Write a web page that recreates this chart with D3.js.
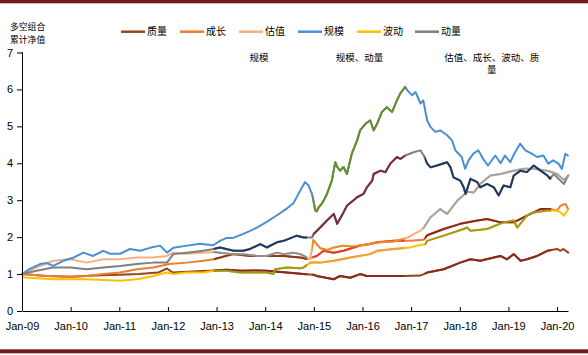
<!DOCTYPE html>
<html><head><meta charset="utf-8">
<script src="https://cdn.jsdelivr.net/npm/d3@7"></script>
<style>body{margin:0;background:#fff}svg{display:block}</style>
</head><body>
<svg id="c" width="588" height="355"></svg>
<script>
// ---- data ----
const seriesNames = ["质量","成长","估值","规模","波动","动量"];
const baseColors  = ["#93471a","#ed7d31","#f4b183","#4a8fd6","#ffc000","#7f7f7f"];

const zhiliang = [[2009.00,1.00],[2009.50,0.95],[2010.00,0.93],[2010.50,0.96],[2011.00,0.98],[2011.40,1.00],[2011.80,1.04],[2011.98,1.15],[2012.10,1.04],[2012.40,1.06],[2012.70,1.08],[2012.95,1.10],[2013.20,1.12],[2013.50,1.09],[2013.80,1.10],[2014.03,1.09],[2014.38,1.05],[2014.79,1.00],[2014.99,0.98],[2015.06,0.95],[2015.41,0.86],[2015.54,0.95],[2015.75,0.90],[2015.95,1.00],[2016.09,0.95],[2016.30,0.95],[2016.64,0.95],[2016.84,0.95],[2017.19,0.96],[2017.33,1.04],[2017.67,1.13],[2018.01,1.31],[2018.22,1.40],[2018.42,1.36],[2018.70,1.45],[2018.84,1.49],[2018.97,1.40],[2019.11,1.54],[2019.25,1.36],[2019.38,1.40],[2019.59,1.49],[2019.80,1.63],[2020.00,1.68],[2020.07,1.63],[2020.13,1.68],[2020.23,1.58]];
const chengzhang = [[2009.00,1.00],[2009.50,0.95],[2010.00,0.93],[2010.33,0.95],[2010.67,1.00],[2011.02,1.04],[2011.36,1.13],[2011.70,1.18],[2012.03,1.27],[2012.39,1.31],[2012.73,1.36],[2012.94,1.40],[2013.34,1.54],[2013.69,1.49],[2014.03,1.49],[2014.38,1.49],[2014.72,1.45],[2014.86,1.41],[2015.06,1.49],[2015.20,1.63],[2015.41,1.58],[2015.61,1.63],[2015.82,1.72],[2015.95,1.77],[2016.13,1.81],[2016.30,1.86],[2016.64,1.90],[2016.84,1.90],[2016.98,1.90],[2017.26,1.93],[2017.33,2.05],[2017.67,2.22],[2018.01,2.36],[2018.36,2.45],[2018.56,2.49],[2018.84,2.40],[2019.11,2.40],[2019.38,2.58],[2019.66,2.76],[2019.86,2.76],[2020.00,2.72],[2020.07,2.85],[2020.17,2.90],[2020.23,2.76]];
const guzhi = [[2009.00,1.00],[2009.37,1.22],[2009.64,1.36],[2009.99,1.40],[2010.33,1.31],[2010.67,1.40],[2011.02,1.40],[2011.36,1.45],[2011.70,1.45],[2011.98,1.49],[2012.11,1.58],[2012.40,1.55],[2012.73,1.58],[2012.95,1.60],[2013.07,1.58],[2013.34,1.54],[2013.55,1.54],[2013.83,1.49],[2014.03,1.49],[2014.24,1.58],[2014.38,1.54],[2014.58,1.58],[2014.72,1.54],[2014.86,1.45],[2014.92,1.40],[2014.99,1.92],[2015.06,1.81],[2015.13,1.70],[2015.27,1.65],[2015.41,1.72],[2015.61,1.77],[2015.82,1.75],[2016.09,1.81],[2016.37,1.86],[2016.64,1.88],[2016.84,1.95],[2016.98,2.02],[2017.05,2.08],[2017.19,2.17],[2017.26,2.26],[2017.40,2.54],[2017.60,2.76],[2017.74,2.63],[2017.95,2.99],[2018.16,3.23],[2018.29,3.21],[2018.42,3.44],[2018.63,3.67],[2018.84,3.71],[2019.11,3.80],[2019.31,3.85],[2019.52,3.85],[2019.80,3.80],[2020.00,3.71],[2020.14,3.55],[2020.23,3.67]];
const guimo = [[2009.00,1.00],[2009.16,1.14],[2009.37,1.27],[2009.51,1.30],[2009.64,1.22],[2009.85,1.36],[2010.05,1.44],[2010.26,1.58],[2010.46,1.49],[2010.67,1.63],[2010.81,1.55],[2011.02,1.55],[2011.22,1.68],[2011.43,1.63],[2011.63,1.71],[2011.84,1.77],[2011.98,1.58],[2012.11,1.71],[2012.40,1.77],[2012.66,1.82],[2012.93,1.78],[2013.07,1.90],[2013.21,1.98],[2013.34,1.98],[2013.55,2.09],[2013.69,2.17],[2013.83,2.26],[2014.04,2.42],[2014.25,2.60],[2014.45,2.78],[2014.58,2.92],[2014.72,3.26],[2014.82,3.49],[2014.89,3.40],[2014.96,3.17],[2014.99,2.99],[2015.03,2.72],[2015.06,2.70],[2015.10,2.81],[2015.16,2.90],[2015.20,2.99],[2015.27,3.17],[2015.37,3.53],[2015.44,4.03],[2015.48,3.90],[2015.54,3.80],[2015.61,3.90],[2015.68,3.71],[2015.78,4.26],[2015.89,4.62],[2015.95,4.89],[2016.06,5.07],[2016.16,5.16],[2016.23,4.89],[2016.30,5.07],[2016.40,5.39],[2016.50,5.52],[2016.61,5.39],[2016.71,5.71],[2016.78,5.90],[2016.88,6.07],[2016.92,5.98],[2017.02,5.84],[2017.09,5.93],[2017.19,5.62],[2017.25,5.70],[2017.33,5.16],[2017.40,4.98],[2017.50,4.85],[2017.60,4.89],[2017.74,4.76],[2017.84,4.62],[2017.91,4.35],[2018.04,4.17],[2018.11,3.85],[2018.18,4.08],[2018.28,4.26],[2018.38,4.35],[2018.48,4.12],[2018.58,3.94],[2018.73,4.21],[2018.84,4.00],[2018.93,4.21],[2019.04,4.03],[2019.10,4.21],[2019.24,4.53],[2019.35,4.35],[2019.48,4.26],[2019.59,4.17],[2019.72,4.21],[2019.82,3.99],[2019.92,4.08],[2020.03,3.99],[2020.10,3.85],[2020.17,4.26],[2020.22,4.21]];
const bodong = [[2009.00,1.00],[2009.05,0.91],[2009.64,0.86],[2010.33,0.86],[2011.02,0.82],[2011.36,0.86],[2011.70,0.95],[2011.98,1.04],[2012.11,1.00],[2012.39,1.04],[2012.73,1.04],[2012.94,1.09],[2013.21,1.09],[2013.48,1.04],[2013.76,1.04],[2014.03,1.04],[2014.17,1.00],[2014.20,1.13],[2014.45,1.18],[2014.72,1.16],[2014.79,1.18],[2014.93,1.31],[2015.13,1.31],[2015.41,1.36],[2015.75,1.45],[2016.16,1.54],[2016.30,1.63],[2016.64,1.68],[2016.98,1.72],[2017.12,1.77],[2017.29,1.81],[2017.33,1.90],[2017.67,2.04],[2018.08,2.22],[2018.15,2.26],[2018.22,2.17],[2018.56,2.22],[2018.90,2.40],[2019.11,2.45],[2019.18,2.26],[2019.38,2.58],[2019.52,2.67],[2019.80,2.72],[2020.00,2.72],[2020.07,2.67],[2020.14,2.58],[2020.21,2.72],[2020.23,2.75]];
const dongliang = [[2009.00,1.00],[2009.30,1.09],[2009.64,1.18],[2009.99,1.18],[2010.33,1.13],[2010.67,1.18],[2011.02,1.22],[2011.36,1.27],[2011.70,1.31],[2011.98,1.31],[2012.11,1.54],[2012.39,1.58],[2012.73,1.63],[2012.94,1.68],[2013.07,1.72],[2013.35,1.63],[2013.55,1.63],[2013.69,1.68],[2013.90,1.81],[2014.03,1.72],[2014.24,1.86],[2014.38,1.90],[2014.65,2.04],[2014.79,1.99],[2014.96,1.99],[2014.99,2.08],[2015.13,2.26],[2015.27,2.45],[2015.41,2.63],[2015.48,2.36],[2015.61,2.67],[2015.68,2.85],[2015.89,3.08],[2016.02,3.17],[2016.09,3.35],[2016.20,3.53],[2016.23,3.71],[2016.37,3.80],[2016.47,3.76],[2016.57,3.99],[2016.71,4.17],[2016.78,4.12],[2016.88,4.21],[2017.05,4.30],[2017.19,4.35],[2017.26,4.21],[2017.33,3.99],[2017.40,3.89],[2017.53,3.94],[2017.74,4.03],[2017.81,3.89],[2017.87,3.62],[2018.01,3.53],[2018.08,3.35],[2018.12,3.17],[2018.22,3.58],[2018.36,3.49],[2018.42,3.35],[2018.56,3.44],[2018.70,3.35],[2018.80,3.13],[2018.90,3.40],[2019.04,3.35],[2019.11,3.67],[2019.25,3.80],[2019.38,3.76],[2019.52,3.94],[2019.66,3.80],[2019.80,3.67],[2019.86,3.58],[2019.93,3.71],[2020.07,3.53],[2020.14,3.44],[2020.23,3.67]];

// highlighted periods per series: [start, end, colour]
const hlZhiliang   = [[2012.94,2014.86,"#8b2a1f"],[2014.97,2016.86,"#8b2a1f"],[2017.28,2019.88,"#8b2a1f"]];
const hlChengzhang = [[2012.94,2014.86,"#8b3a1e"],[2014.97,2016.86,"#dc3e2a"],[2017.28,2019.88,"#8b2a1c"]];
const hlGuzhi      = [[2012.94,2014.86,"#8f8f8f"],[2014.96,2016.86,"#f08a24"],[2017.25,2020.30,"#a5a5a5"]];
const hlGuimo      = [[2014.97,2016.88,"#6b8e23"]];
const hlBodong     = [[2012.94,2014.86,"#9c9a1c"],[2014.90,2016.86,"#f39c3c"],[2017.28,2019.88,"#a39a1e"]];
const hlDongliang  = [[2012.94,2014.86,"#1f3864"],[2014.98,2016.88,"#7b2c3c"],[2017.28,2019.88,"#1f3864"]];

const seriesData = [zhiliang, chengzhang, guzhi, guimo, bodong, dongliang];
const seriesHL   = [hlZhiliang, hlChengzhang, hlGuzhi, hlGuimo, hlBodong, hlDongliang];

const yTicks = [0,1,2,3,4,5,6,7];
const xTickYears = [2009,2010,2011,2012,2013,2014,2015,2016,2017,2018,2019,2020];
const xDomain = [2009, 2020.225];
const yTitle = ["多空组合","累计净值"];
const annotations = [
  {lines:["规模"], t:2013.87},
  {lines:["规模、动量"], t:2015.94},
  {lines:["估值、成长、波动、质","量"], t:2018.66}
];

// ---- drawing ----
const svg = d3.select("#c");
const x = d3.scaleLinear().domain(xDomain).range([22, 568]);
const y = d3.scaleLinear().domain([0, 7]).range([311, 52.5]);

// frame bars
svg.append("rect").attr("x",0).attr("y",0).attr("width",588).attr("height",3.3).attr("fill","#6f1d1b");
svg.append("rect").attr("x",0).attr("y",349.3).attr("width",588).attr("height",4).attr("fill","#6f1d1b");

const defs = svg.append("defs");
const line = d3.line().x(d=>x(d[0])).y(d=>y(d[1]));

const gLines = svg.append("g");
seriesData.forEach((s,i)=>{
  gLines.append("path").datum(s).attr("d",line)
    .attr("fill","none").attr("stroke",baseColors[i]).attr("stroke-width",2)
    .attr("stroke-linejoin","round").attr("stroke-linecap","round");
});
let clipId = 0;
seriesData.forEach((s,i)=>{
  seriesHL[i].forEach(h=>{
    const id = "clip"+(clipId++);
    defs.append("clipPath").attr("id",id).append("rect")
      .attr("x",x(h[0])).attr("y",0).attr("width",x(h[1])-x(h[0])).attr("height",355);
    gLines.append("path").datum(s).attr("d",line).attr("clip-path","url(#"+id+")")
      .attr("fill","none").attr("stroke",h[2]).attr("stroke-width",2)
      .attr("stroke-linejoin","round").attr("stroke-linecap","round");
  });
});

// axes
const yAxis = d3.axisLeft(y).tickValues(yTicks).tickSize(5).tickPadding(4).tickFormat(d3.format("d"));
const gy = svg.append("g").attr("transform","translate(22,0)").call(yAxis);
const xAxis = d3.axisBottom(x).tickValues(xTickYears).tickSizeInner(-4).tickSizeOuter(0).tickPadding(11)
  .tickFormat(d=>"Jan-"+String(d).slice(2));
const gx = svg.append("g").attr("transform","translate(0,311)").call(xAxis);
[gx,gy].forEach(g=>{
  g.selectAll("path.domain").attr("stroke","#000").attr("stroke-width",1);
  g.selectAll(".tick line").attr("stroke","#000");
  g.selectAll("text").attr("font-family","'Liberation Sans', Arial, sans-serif").attr("font-size",11).attr("fill","#000");
});
gy.select("path.domain").attr("d","M-0.5,"+y(7)+"H0.5V"+y(0));

// y title
yTitle.forEach((t,i)=>{
  svg.append("text").attr("x",10).attr("y",30.3+i*12.8).text(t)
    .attr("font-family","'Noto Sans CJK SC', sans-serif").attr("font-size",8.8).attr("fill","#000");
});

// legend
const legX = [121,180,239,298,357,415];
seriesNames.forEach((n,i)=>{
  svg.append("line").attr("x1",legX[i]).attr("x2",legX[i]+24).attr("y1",31.7).attr("y2",31.7)
    .attr("stroke",baseColors[i]).attr("stroke-width",2.5);
  svg.append("text").attr("x",legX[i]+26).attr("y",35.4).text(n)
    .attr("font-family","'Noto Sans CJK SC', sans-serif").attr("font-size",10).attr("fill","#000");
});

// annotations
annotations.forEach(a=>{
  a.lines.forEach((l,j)=>{
    svg.append("text").attr("x",x(a.t)).attr("y",y(7)+8+j*12.5).attr("text-anchor","middle").text(l)
      .attr("font-family","'Noto Sans CJK SC', sans-serif").attr("font-size",9.5).attr("fill","#000");
  });
});
</script>
</body></html>
